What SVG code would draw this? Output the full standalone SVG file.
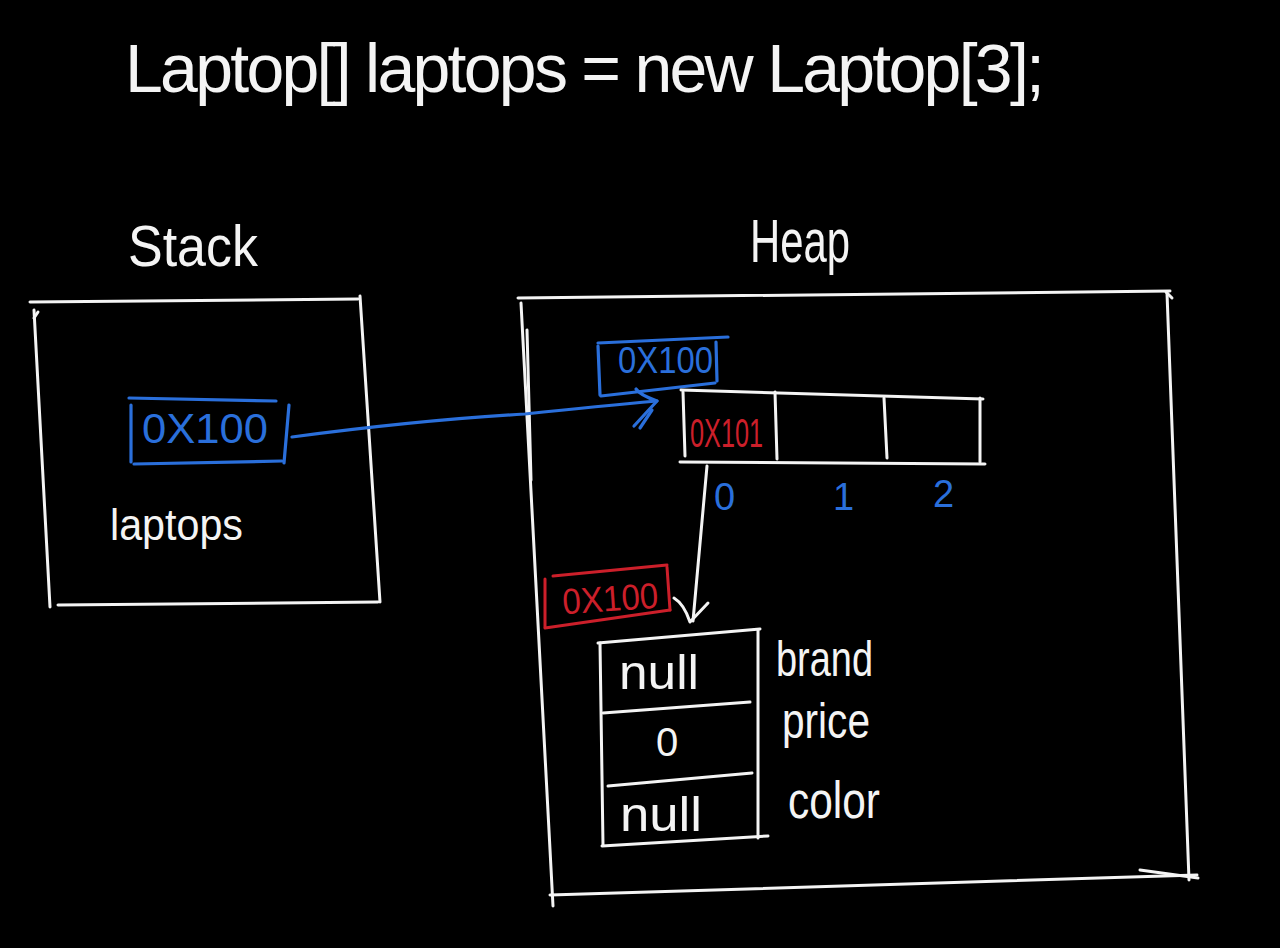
<svg xmlns="http://www.w3.org/2000/svg" width="1280" height="948" viewBox="0 0 1280 948">
<style>
.w{fill:none;stroke:#f4f4f4;stroke-width:3;stroke-linecap:round;stroke-linejoin:round}
.b{fill:none;stroke:#2a6fdb;stroke-width:3.2;stroke-linecap:round;stroke-linejoin:round}
.r{fill:none;stroke:#cc1f2a;stroke-width:3;stroke-linecap:round;stroke-linejoin:round}
.tw{fill:#f4f4f4;font-family:"Liberation Sans","DejaVu Sans",sans-serif}
.tb{fill:#2a6fdb;font-family:"Liberation Sans","DejaVu Sans",sans-serif}
.tr{fill:#cc1f2a;font-family:"Liberation Sans","DejaVu Sans",sans-serif}
</style>
<rect width="1280" height="948" fill="#000"/>

<g id="title">
<text class="tw" x="125" y="92" font-size="68" textLength="920" lengthAdjust="spacing">Laptop[] laptops = new Laptop[3];</text>
</g>

<g id="stack">
<text class="tw" x="128" y="266" font-size="58" textLength="130" lengthAdjust="spacingAndGlyphs">Stack</text>
<path class="w" d="M30 302 L358 299"/>
<path class="w" d="M34 310 L50 607"/>
<path class="w" d="M34 318 L38 312"/>
<path class="w" d="M360 296 L380 602"/>
<path class="w" d="M58 605 L378 602"/>
<g id="stack-ref">
<path class="b" d="M129 398 L276 401"/>
<path class="b" d="M131 405 L131 462"/>
<path class="b" d="M289 405 L284 463"/>
<path class="b" d="M134 464 L282 461"/>
<text class="tb" x="142" y="443" font-size="43" textLength="126" lengthAdjust="spacingAndGlyphs">0X100</text>
</g>
<text class="tw" x="110" y="540" font-size="44" textLength="133" lengthAdjust="spacingAndGlyphs">laptops</text>
</g>

<g id="heap">
<text class="tw" x="750" y="262" font-size="62" textLength="100" lengthAdjust="spacingAndGlyphs">Heap</text>
<path class="w" d="M518 298 L1170 291"/>
<path class="w" d="M1166 292 L1172 298"/>
<path class="w" d="M521 303 L553 906"/>
<path class="w" d="M527 330 L531 480"/>
<path class="w" d="M1167 293 L1189 880"/>
<path class="w" d="M550 895 L1197 875"/>
<path class="w" d="M1140 870 L1198 878"/>
</g>

<g id="heap-array-ref">
<path class="b" d="M598 343 L728 337"/>
<path class="b" d="M598 346 L600 395"/>
<path class="b" d="M716 342 L717 381"/>
<path class="b" d="M601 396 L715 383"/>
<text class="tb" x="618" y="373" font-size="36" textLength="95" lengthAdjust="spacingAndGlyphs">0X100</text>
</g>

<g id="heap-array">
<path class="w" d="M681 390 L983 399"/>
<path class="w" d="M683 392 L685 456"/>
<path class="w" d="M775 392 L777 459"/>
<path class="w" d="M884 398 L887 458"/>
<path class="w" d="M980 398 L980 462"/>
<path class="w" d="M680 462 L985 464"/>
<text class="tr" x="690" y="447" font-size="40" textLength="73" lengthAdjust="spacingAndGlyphs">0X101</text>
<text class="tb" x="714" y="510" font-size="38">0</text>
<text class="tb" x="833" y="510" font-size="38">1</text>
<text class="tb" x="933" y="507" font-size="38">2</text>
</g>

<g id="object-ref">
<path class="r" d="M553 576 L667 565"/>
<path class="r" d="M545 579 L545 627"/>
<path class="r" d="M667 567 L670 610"/>
<path class="r" d="M545 628 L670 610"/>
<text class="tr" x="562" y="611" font-size="36" textLength="96" lengthAdjust="spacingAndGlyphs" transform="rotate(-4 610 595)">0X100</text>
</g>

<g id="laptop-object">
<path class="w" d="M598 643 L760 629"/>
<path class="w" d="M600 643 L603 845"/>
<path class="w" d="M758 630 L758 838"/>
<path class="w" d="M602 846 L768 836"/>
<path class="w" d="M603 713 L750 702"/>
<path class="w" d="M608 786 L752 773"/>
<text class="tw" x="619" y="689" font-size="48" textLength="80" lengthAdjust="spacingAndGlyphs">null</text>
<text class="tw" x="656" y="756" font-size="40">0</text>
<text class="tw" x="620" y="831" font-size="48" textLength="82" lengthAdjust="spacingAndGlyphs">null</text>
<text class="tw" x="776" y="676" font-size="50" textLength="97" lengthAdjust="spacingAndGlyphs">brand</text>
<text class="tw" x="782" y="738" font-size="50" textLength="88" lengthAdjust="spacingAndGlyphs">price</text>
<text class="tw" x="788" y="818" font-size="52" textLength="92" lengthAdjust="spacingAndGlyphs">color</text>
</g>

<g id="connectors">
<path class="b" d="M292 437 Q420 420 525 414 Q600 406 657 401"/>
<path class="b" d="M636 389 Q640 395 657 401 L634 426"/>
<path class="b" d="M640 428 L652 410"/>
<path class="w" d="M707 466 L693 621"/>
<path class="w" d="M674 598 Q684 604 690 622 L708 603"/>
</g>
</svg>
